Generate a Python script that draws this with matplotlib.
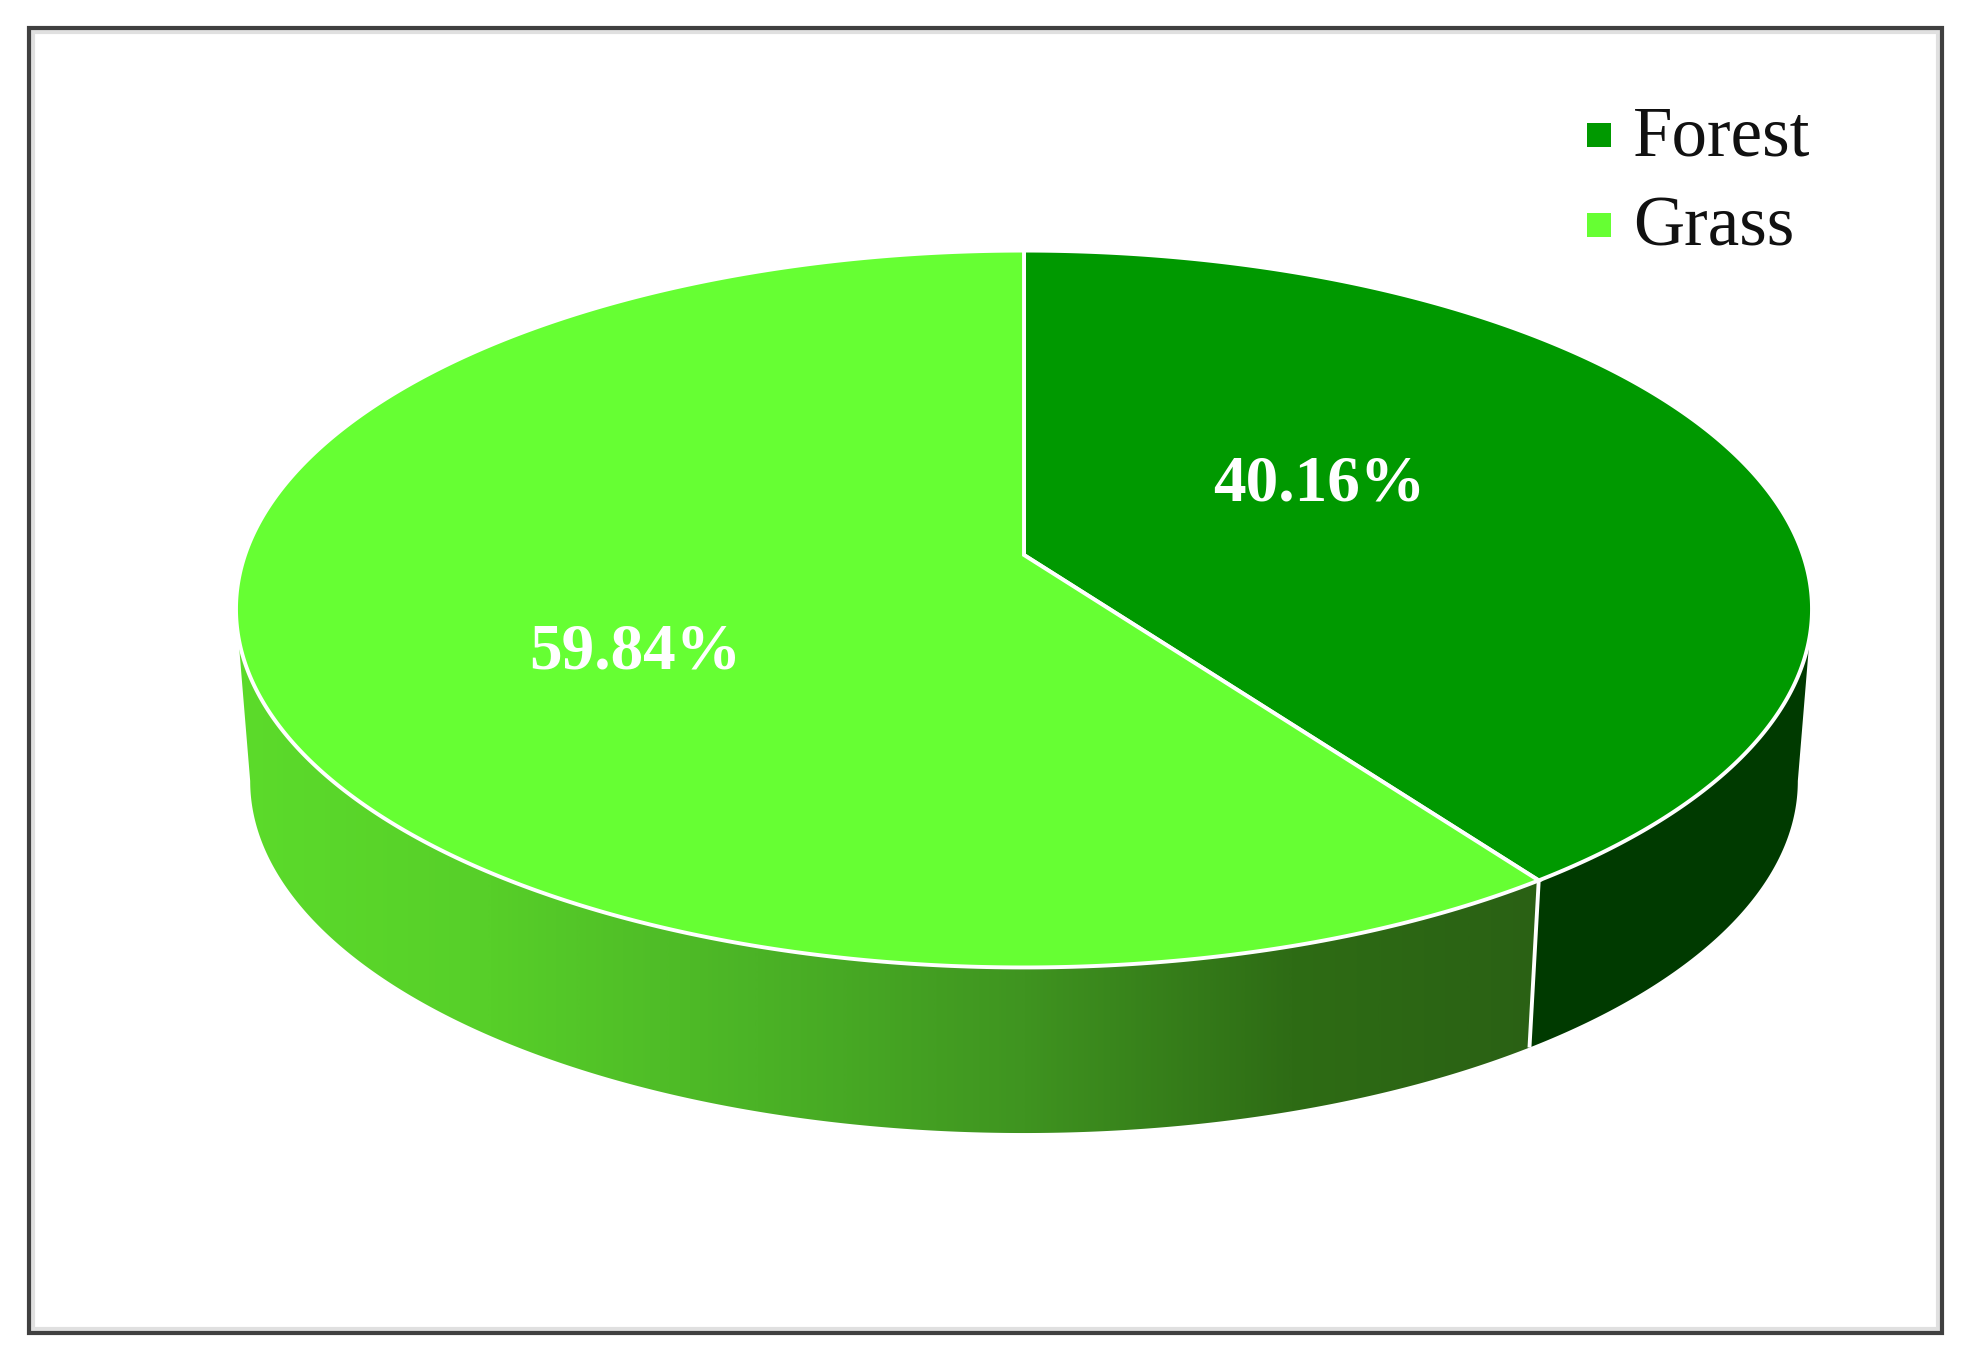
import numpy as np
import matplotlib
matplotlib.use("Agg")
import matplotlib.pyplot as plt
from matplotlib.colors import LinearSegmentedColormap
from matplotlib.lines import Line2D
from matplotlib.patches import Polygon, Rectangle

# ---- data ----
categories = ["Forest", "Grass"]
shares = [40.16, 59.84]
share_labels = ["40.16%", "59.84%"]
top_colors = ["#009900", "#66FF33"]
forest_side_color = "#003A00"
grass_side_stops = ["#5CDC2B", "#57CF29", "#4BB326", "#3F9420", "#2E6C15", "#2A6014"]

# ---- pie geometry, in image pixels ----
W, H = 1965, 1370
CX, CY = 1024.0, 555.0       # vertex of the top face
A, B, K = 779.0, 350.3, 0.1507   # perspective projection of the disc
SCALE_LOW, CY_LOW = 0.982, 728.0  # lower rim of the disc


def rim(theta, scale=1.0, cy=CY):
    """theta is clockwise from twelve o'clock, radians."""
    theta = np.asarray(theta)
    X, Y = np.sin(theta), np.cos(theta)
    w = 1 + K * Y
    return CX + scale * A * X / w, cy - scale * B * Y / w


def side_polygon(t0, t1):
    t = np.linspace(t0, t1, 300)
    xu, yu = rim(t)
    xl, yl = rim(t[::-1], SCALE_LOW, CY_LOW)
    return np.column_stack([np.r_[xu, xl], np.r_[yu, yl]])


fig = plt.figure(figsize=(W / 100, H / 100), dpi=100, facecolor="white")
ax = fig.add_axes([0, 0, 1, 1])
ax.set_xlim(0, W)
ax.set_ylim(H, 0)
ax.axis("off")

# frame: grey inner line and dark outer line
ax.add_patch(Rectangle((33, 32), 1905, 1297, fc="none", ec="#E0E0E0", lw=3.0, zorder=1))
ax.add_patch(Rectangle((29, 28), 1913, 1305, fc="none", ec="#404040", lw=3.0, zorder=2))

fractions = np.array(shares) / sum(shares)
edges = np.r_[0, np.cumsum(fractions)] * 2 * np.pi
split = edges[1]
t_ext = np.arcsin(np.sqrt(1 - K ** 2))
t_right = np.pi - t_ext            # tangent point on the right
t_left = np.pi + t_ext             # tangent point on the left

# side walls
ax.add_patch(Polygon(side_polygon(t_right, split), closed=True,
                     fc=forest_side_color, ec="none", zorder=3))
grass_poly = Polygon(side_polygon(split, t_left), closed=True, fc="none", ec="none", zorder=3)
ax.add_patch(grass_poly)
cmap = LinearSegmentedColormap.from_list("grass_side", grass_side_stops)
grad = np.linspace(0, 1, 512).reshape(1, -1)
img = ax.imshow(grad, cmap=cmap, extent=(220, 1560, 1150, 600), aspect="auto", zorder=3,
                interpolation="bilinear")
img.set_clip_path(grass_poly)
ax.set_xlim(0, W)
ax.set_ylim(H, 0)

# white seam between walls
xu, yu = rim(split)
xl, yl = rim(split, SCALE_LOW, CY_LOW)
ax.plot([xu, xl], [yu, yl], color="white", lw=2.8, zorder=4, solid_capstyle="butt")

# top face
for i, color in enumerate(top_colors):
    t = np.linspace(edges[i], edges[i + 1], 400)
    x, y = rim(t)
    pts = np.column_stack([np.r_[CX, x], np.r_[CY, y]])
    ax.add_patch(Polygon(pts, closed=True, fc=color, ec="white", lw=2.8, zorder=5,
                         joinstyle="miter"))

# data labels
label_pos = [(1319, 500), (635, 668)]
for text, (lx, ly) in zip(share_labels, label_pos):
    ax.text(lx, ly, text, color="white", fontsize=47, fontweight="bold",
            family="Liberation Serif", ha="center", va="baseline", zorder=6)

# legend
handles = [Line2D([], [], linestyle="none", marker="s", markersize=17, markeredgewidth=0,
                  color=c) for c in top_colors]
ax.legend(handles, categories, loc="upper left", bbox_to_anchor=(1581.5 / W, 1 - 105.5 / H),
          bbox_transform=fig.transFigure, frameon=False, borderpad=0, borderaxespad=0,
          handlelength=0.5, handleheight=0.34, handletextpad=0.225, labelspacing=0.36,
          prop={"family": "Liberation Serif", "size": 51}, labelcolor="#111111")

fig.savefig("out.png", dpi=100, facecolor="white")
